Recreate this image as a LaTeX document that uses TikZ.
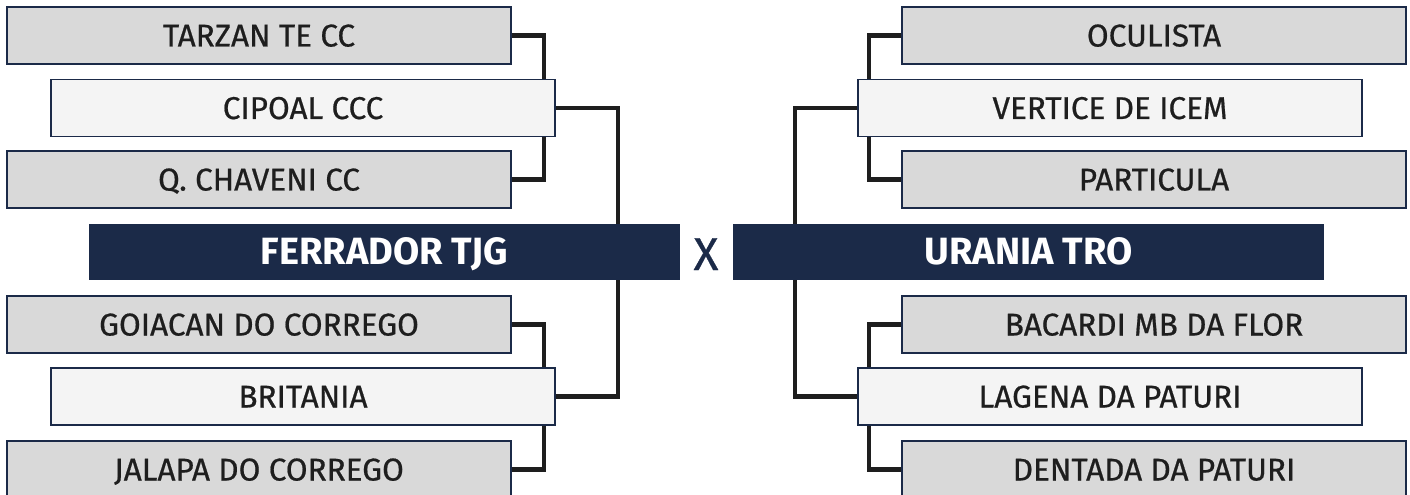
\documentclass[tikz,border=0pt]{standalone}
\usepackage{fontspec}
\setmainfont{Fira Sans}
\newfontfamily\medfont{Fira Sans}[FakeBold=0.6]
\definecolor{navy}{HTML}{1B2A48}
\definecolor{greyA}{HTML}{D9D9D9}
\definecolor{greyB}{HTML}{F4F4F4}
\definecolor{txt}{HTML}{1E1E1E}
\definecolor{linec}{HTML}{1E1E1E}
\begin{document}
\begin{tikzpicture}[x=1bp,y=-1bp,
  team/.style={draw=navy, line width=1.8bp, fill=greyA, minimum width=504bp,
    minimum height=57bp, inner sep=0pt, text height=22bp, text depth=0bp,
    font=\medfont\fontsize{31.5bp}{36bp}\selectfont, text=txt},
  semi/.style={team, fill=greyB},
  final/.style={fill=navy, draw=none, minimum width=591bp, minimum height=56bp,
    inner sep=0pt, text=white, text height=26bp, text depth=0bp,
    font=\bfseries\fontsize{38bp}{44bp}\selectfont},
  link/.style={draw=linec, line width=4.5bp}]
\useasboundingbox (0,0) rectangle (1410,495);
\begin{scope}
\clip (0,0) rectangle (1410,495);
% junction columns
\coordinate (jL) at (544,0);
\coordinate (fL) at (618,0);
\coordinate (jR) at (869,0);
\coordinate (fR) at (795,0);
% left side
\node[team] (tarzan)   at (259,35.5)  {TARZAN TE CC};
\node[semi] (cipoal)   at (303,108)   {CIPOAL CCC};
\node[team] (chaveni)  at (259,179.5) {Q. CHAVENI CC};
\node[final] (ferrador) at (384.5,252) {FERRADOR TJG};
\node[team] (goiacan)  at (259,324.5) {GOIACAN DO CORREGO};
\node[semi] (britania) at (303,396.5) {BRITANIA};
\node[team] (jalapa)   at (259,469.5) {JALAPA DO CORREGO};
% right side
\node[team] (oculista)  at (1154,35.5)  {OCULISTA};
\node[semi] (vertice)   at (1110,108)   {VERTICE DE ICEM};
\node[team] (particula) at (1154,179.5) {PARTICULA};
\node[final] (urania)   at (1028.5,252) {URANIA TRO};
\node[team] (bacardi)   at (1154,324.5) {BACARDI MB DA FLOR};
\node[semi] (lagena)    at (1110,396.5) {LAGENA DA PATURI};
\node[team] (dentada)   at (1154,469.5) {DENTADA DA PATURI};
% versus
\node[text=navy, inner sep=0pt, text height=33bp, text depth=0bp,
  font=\medfont\fontsize{46bp}{50bp}\selectfont] (vs) at (706,253.5) {X};
% connectors left
\draw[link] (tarzan.east) -| (cipoal.north -| jL);
\draw[link] (chaveni.east) -| (cipoal.south -| jL);
\draw[link] (cipoal.east) -| (ferrador.north -| fL);
\draw[link] (goiacan.east) -| (britania.north -| jL);
\draw[link] (jalapa.east) -| (britania.south -| jL);
\draw[link] (britania.east) -| (ferrador.south -| fL);
% connectors right
\draw[link] (oculista.west) -| (vertice.north -| jR);
\draw[link] (particula.west) -| (vertice.south -| jR);
\draw[link] (vertice.west) -| (urania.north -| fR);
\draw[link] (bacardi.west) -| (lagena.north -| jR);
\draw[link] (dentada.west) -| (lagena.south -| jR);
\draw[link] (lagena.west) -| (urania.south -| fR);
\end{scope}
\end{tikzpicture}
\end{document}
